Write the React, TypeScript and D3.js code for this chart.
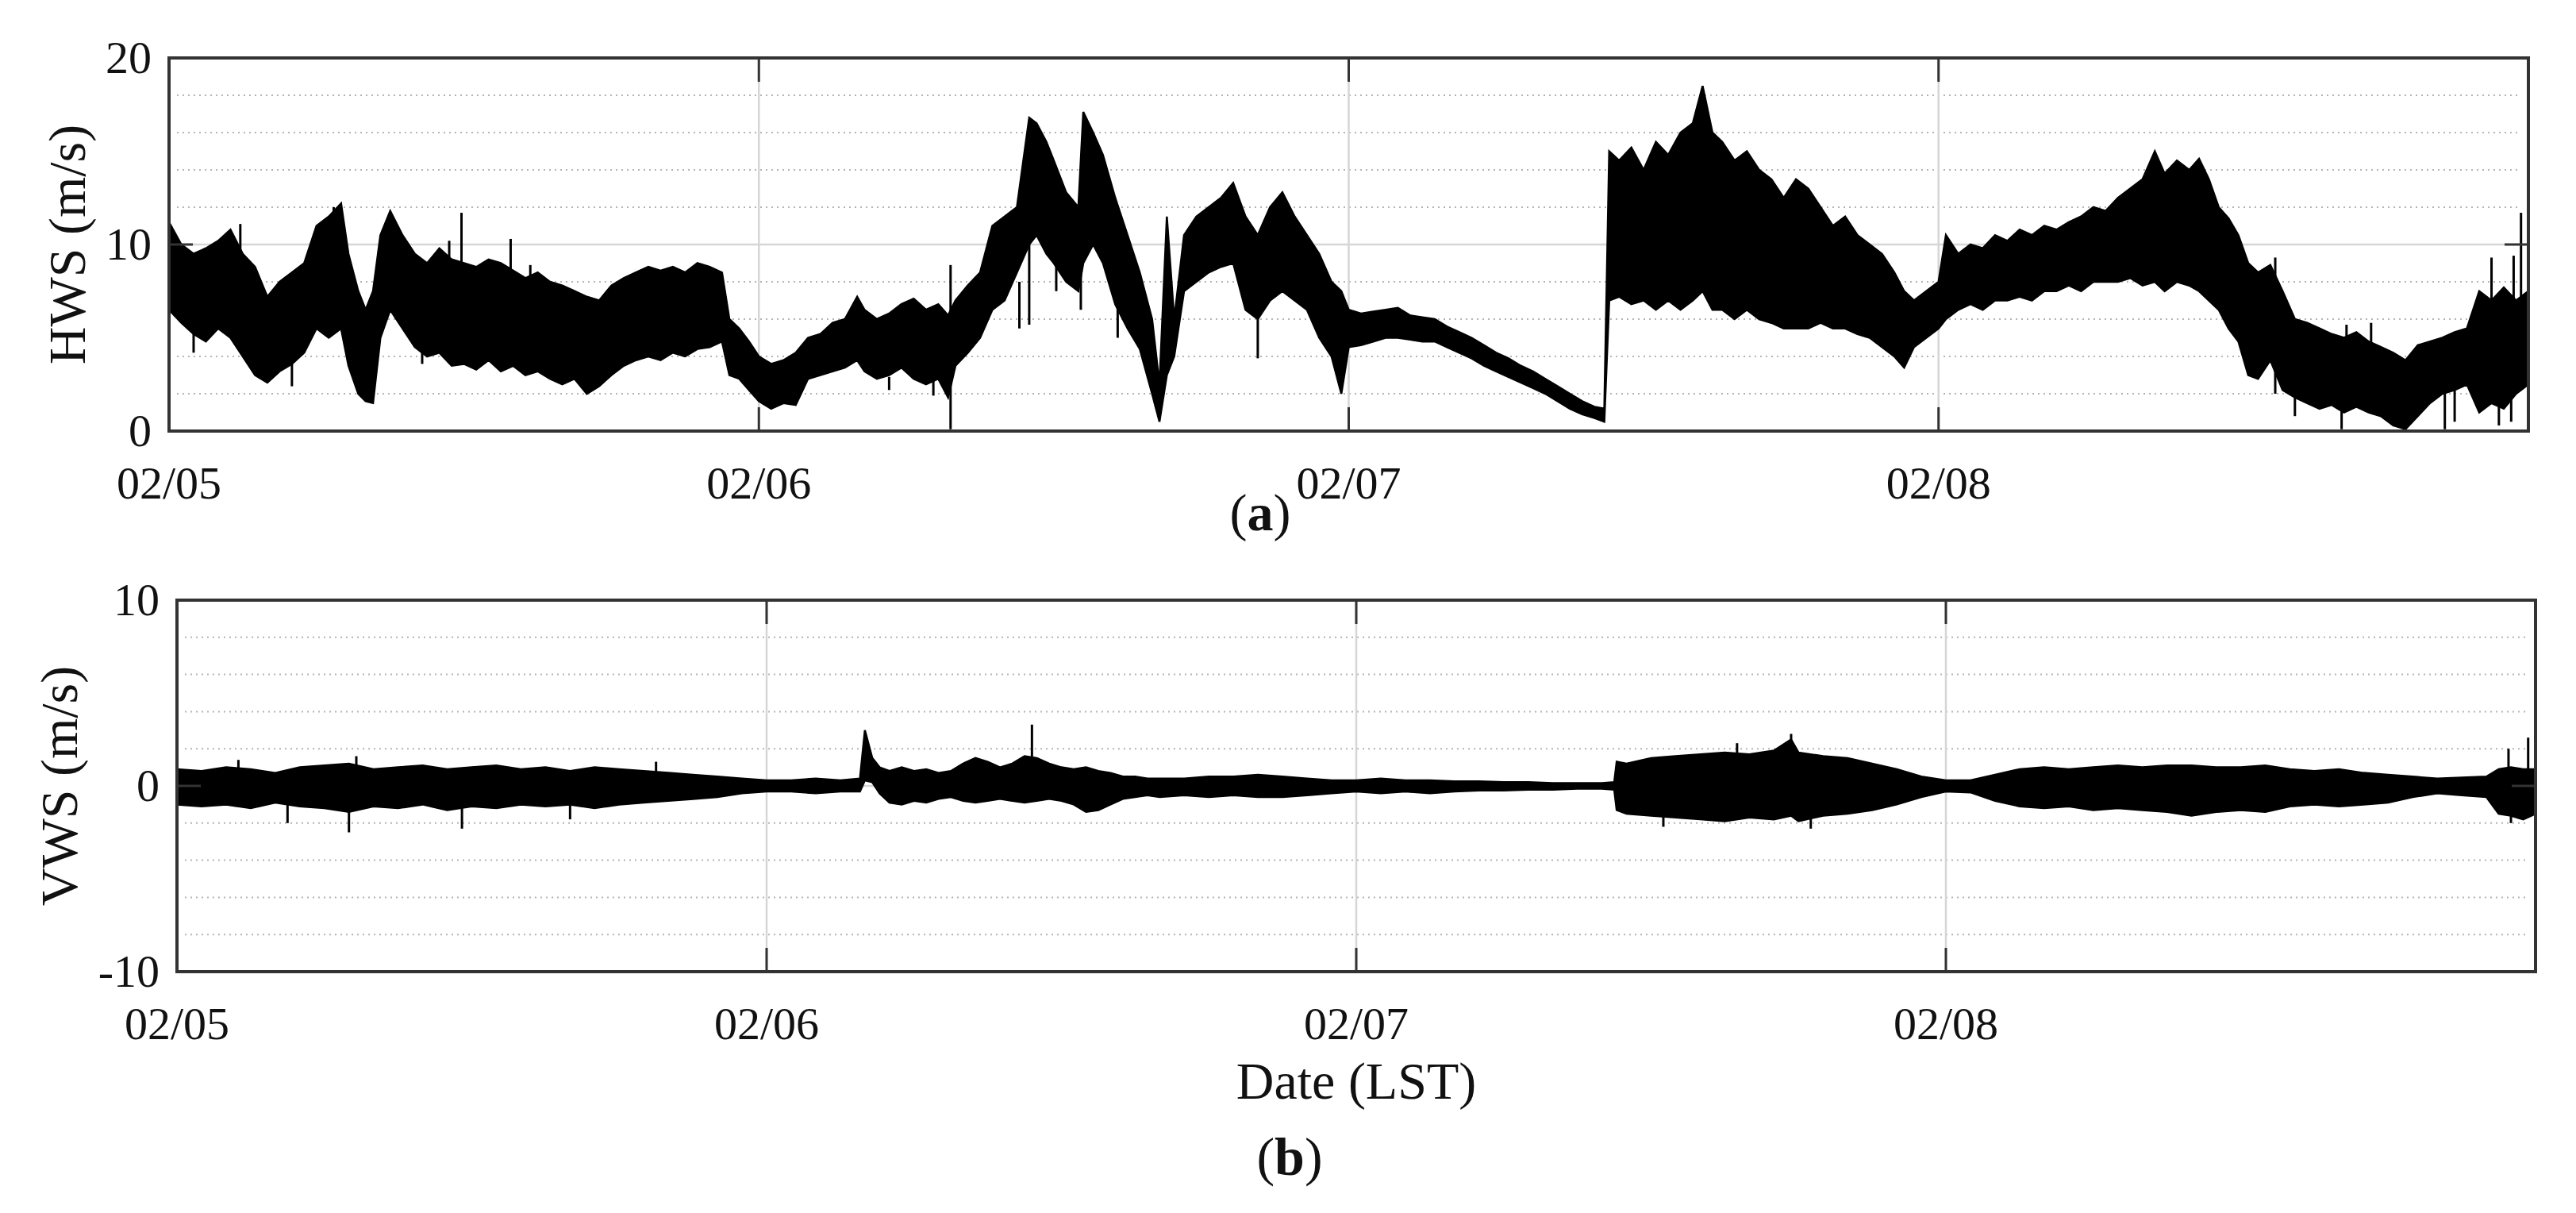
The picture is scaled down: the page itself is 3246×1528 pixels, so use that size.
import React from 'react';
import * as d3 from 'd3';

const W = 3246;
const H = 1528;

// x axis: hours since 02/05 00:00 LST
const dayLabels = ['02/05', '02/06', '02/07', '02/08'];
const dayHours = [0, 24, 48, 72];
const xDomain = [0, 96];

// ---------- HWS (m/s): envelope (upper / lower) ----------
const hwsT = [0, 0.5, 1, 1.5, 2, 2.5, 3, 3.5, 4, 4.5, 5, 5.5, 6, 6.5, 7, 7.3, 7.7, 8, 8.3, 8.6, 9, 9.5, 10, 10.5, 11, 11.5, 12, 12.5, 13, 13.5, 14, 14.5, 15, 15.5, 16, 16.5, 17, 17.5, 18, 18.5, 19, 19.5, 20, 20.5, 21, 21.5, 22, 22.5, 22.8, 23.2, 23.6, 24, 24.5, 25, 25.5, 26, 26.5, 27, 27.5, 28, 28.3, 28.8, 29.3, 29.8, 30.3, 30.8, 31.3, 31.7, 32, 32.5, 33, 33.5, 34, 34.5, 35, 35.3, 35.7, 36, 36.5, 37, 37.2, 37.6, 38, 38.5, 39, 39.5, 40, 40.3, 40.6, 40.9, 41.3, 41.8, 42.3, 42.8, 43.3, 43.8, 44.3, 44.8, 45.3, 45.8, 46.3, 46.8, 47.3, 47.7, 48, 48.5, 49, 49.5, 50, 50.5, 51, 51.5, 52, 52.5, 53, 53.5, 54, 54.5, 55, 55.5, 56, 56.5, 57, 57.5, 58, 58.4, 58.6, 59, 59.5, 60, 60.5, 61, 61.5, 62, 62.4, 62.8, 63.2, 63.7, 64.2, 64.7, 65.2, 65.7, 66.2, 66.7, 67.2, 67.7, 68.2, 68.7, 69.2, 69.7, 70.2, 70.6, 71, 71.5, 72, 72.3, 72.8, 73.3, 73.8, 74.3, 74.8, 75.3, 75.8, 76.3, 76.8, 77.3, 77.8, 78.3, 78.8, 79.3, 79.8, 80.3, 80.8, 81.2, 81.7, 82.2, 82.6, 83, 83.4, 83.8, 84.2, 84.6, 85, 85.5, 86, 86.5, 87, 87.5, 88, 88.5, 89, 89.5, 90, 90.5, 91, 91.5, 92, 92.5, 93, 93.5, 94, 94.5, 95, 95.5, 96];
const hwsHi = [11.2, 10.0, 9.5, 9.8, 10.2, 10.8, 9.5, 8.8, 7.2, 8.0, 8.5, 9.0, 11.0, 11.5, 12.2, 9.5, 7.5, 6.5, 7.5, 10.5, 11.8, 10.5, 9.5, 9.0, 9.8, 9.2, 9.0, 8.8, 9.2, 9.0, 8.6, 8.2, 8.5, 8.0, 7.8, 7.5, 7.2, 7.0, 7.8, 8.2, 8.5, 8.8, 8.6, 8.8, 8.5, 9.0, 8.8, 8.5, 6.0, 5.5, 4.8, 4.0, 3.6, 3.8, 4.2, 5.0, 5.2, 5.8, 6.0, 7.2, 6.5, 6.0, 6.3, 6.8, 7.1, 6.5, 6.8, 6.2, 7.0, 7.8, 8.5, 11.0, 11.5, 12.0, 16.8, 16.5, 15.5, 14.5, 12.8, 12.0, 17.1, 16.0, 14.8, 12.5, 10.5, 8.5, 6.0, 2.5, 11.5, 6.0, 10.5, 11.5, 12.0, 12.5, 13.3, 11.5, 10.5, 12.0, 12.8, 11.5, 10.5, 9.5, 8.0, 7.5, 6.5, 6.3, 6.4, 6.5, 6.6, 6.2, 6.1, 6.0, 5.6, 5.3, 5.0, 4.6, 4.2, 3.9, 3.5, 3.2, 2.8, 2.4, 2.0, 1.6, 1.3, 1.2, 15.0, 14.5, 15.2, 14.0, 15.5, 14.8, 16.0, 16.5, 18.5, 16.0, 15.5, 14.5, 15.0, 14.0, 13.5, 12.5, 13.5, 13.0, 12.0, 11.0, 11.5, 10.5, 10.0, 9.5, 8.5, 7.5, 7.0, 7.5, 8.0, 10.5, 9.5, 10.0, 9.8, 10.5, 10.2, 10.8, 10.5, 11.0, 10.8, 11.2, 11.5, 12.0, 11.8, 12.5, 13.0, 13.5, 15.0, 13.8, 14.5, 14.0, 14.6, 13.5, 12.0, 11.4, 10.5, 9.0, 8.5, 8.9, 7.5, 6.0, 5.8, 5.5, 5.2, 5.0, 5.3, 4.8, 4.5, 4.2, 3.8, 4.6, 4.8, 5.0, 5.3, 5.5, 7.5, 7.0, 7.7, 7.0, 7.5];
const hwsLo = [6.5, 5.8, 5.2, 4.8, 5.5, 5.0, 4.0, 3.0, 2.6, 3.2, 3.6, 4.2, 5.5, 5.0, 5.5, 3.5, 2.0, 1.6, 1.5, 5.0, 6.5, 5.5, 4.5, 4.0, 4.2, 3.5, 3.6, 3.3, 3.8, 3.2, 3.5, 3.0, 3.2, 2.8, 2.5, 2.8, 2.0, 2.4, 3.0, 3.5, 3.8, 4.0, 3.8, 4.2, 4.0, 4.4, 4.5, 4.8, 3.0, 2.8, 2.2, 1.6, 1.2, 1.5, 1.4, 2.8, 3.0, 3.2, 3.4, 3.8, 3.2, 2.8, 3.0, 3.4, 2.8, 2.5, 2.8, 1.8, 3.5, 4.2, 5.0, 6.5, 7.0, 8.5, 10.0, 10.5, 9.5, 9.0, 8.0, 7.5, 9.0, 10.0, 9.0, 6.8, 5.5, 4.4, 2.0, 0.5, 3.0, 4.0, 7.5, 8.0, 8.5, 8.8, 9.0, 6.5, 6.0, 7.0, 7.5, 7.0, 6.5, 5.0, 4.0, 2.0, 4.5, 4.6, 4.8, 5.0, 5.0, 4.9, 4.8, 4.8, 4.5, 4.2, 3.9, 3.5, 3.2, 2.9, 2.6, 2.3, 2.0, 1.6, 1.2, 0.9, 0.7, 0.5, 7.0, 7.2, 6.8, 7.0, 6.5, 7.0, 6.5, 7.0, 7.5, 6.5, 6.5, 6.0, 6.5, 6.0, 5.8, 5.5, 5.5, 5.5, 5.8, 5.5, 5.5, 5.2, 5.0, 4.5, 4.0, 3.4, 4.5, 5.0, 5.5, 6.0, 6.5, 6.8, 6.5, 7.0, 7.0, 7.2, 7.0, 7.5, 7.5, 7.8, 7.5, 8.0, 8.0, 8.0, 8.2, 7.8, 8.0, 7.5, 8.0, 7.8, 7.5, 7.0, 6.5, 5.5, 4.8, 3.0, 2.8, 3.8, 2.2, 1.8, 1.5, 1.2, 1.4, 1.0, 1.3, 1.0, 0.8, 0.3, 0.1, 0.8, 1.5, 2.0, 2.2, 2.5, 1.0, 1.5, 1.2, 2.0, 2.5];
// isolated spikes: [hour, from, to]
const hwsSpikes = [
  [1.0, 4.2, 7.0], [2.9, 6.0, 11.1], [5.0, 2.4, 6.0], [6.7, 7.0, 12.0], [10.3, 3.6, 7.0], [11.4, 5.0, 10.2],
  [11.9, 4.0, 11.7], [13.9, 5.0, 10.3], [14.7, 4.0, 8.9], [29.3, 2.2, 2.9], [31.1, 1.9, 4.0], [31.8, 0.1, 8.9],
  [34.6, 5.5, 8.0], [35.0, 5.7, 11.0], [36.1, 7.5, 10.0], [37.1, 6.5, 9.0], [38.6, 5.0, 8.0], [44.1, 8.0, 10.7],
  [44.3, 3.9, 7.0], [83.3, 8.0, 11.4], [85.7, 2.0, 9.3], [86.5, 0.8, 3.0], [88.4, 0.1, 3.0], [88.6, 2.0, 5.7],
  [89.6, 2.0, 5.8], [92.6, 0.1, 3.0], [93.0, 0.5, 3.0], [94.5, 3.0, 9.3], [94.8, 0.3, 3.0], [95.3, 0.5, 3.0],
  [95.4, 3.0, 9.4], [95.7, 4.0, 11.7],
];

// ---------- VWS (m/s) ----------
const vwsT = [0, 1, 2, 3, 4, 5, 6, 7, 8, 9, 10, 11, 12, 13, 14, 15, 16, 17, 18, 19, 20, 21, 22, 23, 24, 25, 26, 27, 27.8, 28, 28.3, 28.6, 29, 29.5, 30, 30.5, 31, 31.5, 32, 32.5, 33, 33.5, 34, 34.5, 35, 35.5, 36, 36.5, 37, 37.5, 38, 38.5, 39, 39.5, 40, 41, 42, 43, 44, 45, 46, 47, 48, 49, 50, 51, 52, 53, 54, 55, 56, 57, 58, 58.5, 58.6, 59, 60, 61, 62, 63, 64, 65, 65.7, 66, 67, 68, 69, 70, 71, 72, 73, 74, 75, 76, 77, 78, 79, 80, 81, 82, 83, 84, 85, 86, 87, 88, 89, 90, 91, 92, 93, 94, 94.5, 95, 95.5, 96];
const vwsHi = [0.9, 0.8, 1.0, 0.9, 0.7, 1.0, 1.1, 1.2, 0.9, 1.0, 1.1, 0.9, 1.0, 1.1, 0.9, 1.0, 0.8, 1.0, 0.9, 0.8, 0.7, 0.6, 0.5, 0.4, 0.3, 0.3, 0.4, 0.3, 0.4, 3.0, 1.5, 1.0, 0.8, 1.0, 0.8, 0.9, 0.7, 0.8, 1.2, 1.5, 1.3, 1.0, 1.2, 1.6, 1.5, 1.2, 1.0, 0.9, 1.0, 0.8, 0.7, 0.5, 0.5, 0.4, 0.4, 0.4, 0.5, 0.5, 0.6, 0.5, 0.4, 0.3, 0.3, 0.4, 0.3, 0.3, 0.25, 0.25, 0.2, 0.2, 0.15, 0.15, 0.15, 0.2, 1.3, 1.2, 1.5, 1.6, 1.7, 1.8, 1.7, 1.9, 2.5, 1.8, 1.6, 1.5, 1.2, 0.9, 0.5, 0.3, 0.3, 0.6, 0.9, 1.0, 0.9, 1.0, 1.1, 1.0, 1.1, 1.1, 1.0, 1.0, 1.1, 0.9, 0.8, 0.9, 0.7, 0.6, 0.5, 0.4, 0.45, 0.5, 0.9, 1.0, 0.9, 0.9];
const vwsLo = [-1.0, -1.1, -1.0, -1.2, -0.9, -1.1, -1.2, -1.4, -1.1, -1.2, -1.0, -1.3, -1.1, -1.2, -1.0, -1.1, -1.0, -1.2, -1.0, -0.9, -0.8, -0.7, -0.6, -0.4, -0.3, -0.3, -0.4, -0.3, -0.3, 0.3, 0.2, -0.4, -0.9, -1.0, -0.8, -0.9, -0.7, -0.6, -0.8, -0.9, -0.8, -0.7, -0.8, -0.9, -0.8, -0.7, -0.8, -1.0, -1.4, -1.3, -1.0, -0.7, -0.6, -0.5, -0.6, -0.5, -0.6, -0.5, -0.6, -0.6, -0.5, -0.4, -0.3, -0.4, -0.3, -0.4, -0.3, -0.25, -0.25, -0.2, -0.2, -0.15, -0.15, -0.2, -1.3, -1.5, -1.6, -1.7, -1.8, -1.9, -1.7, -1.8, -1.6, -1.9, -1.6, -1.5, -1.3, -1.0, -0.6, -0.3, -0.35, -0.8, -1.1, -1.2, -1.1, -1.3, -1.2, -1.3, -1.4, -1.6, -1.4, -1.3, -1.4, -1.1, -1.0, -1.1, -1.0, -0.9, -0.6, -0.4, -0.5, -0.6, -1.5, -1.6, -1.8, -1.5];
const vwsSpikes = [
  [2.5, 0, 1.4], [4.5, -2.0, 0], [7.0, -2.5, 0], [7.3, 0, 1.6], [11.6, -2.3, 0], [16.0, -1.8, 0], [19.5, 0, 1.3],
  [34.8, 0, 3.3], [60.5, -2.2, 0], [63.5, 0, 2.3], [65.7, 0, 2.8], [66.5, -2.3, 0], [94.9, 0, 2.0], [95.0, -2.0, 0],
  [95.7, 0, 2.6],
];

// axis ticks
const hwsMajor = [0, 10, 20];
const hwsMinor = [2, 4, 6, 8, 12, 14, 16, 18];
const vwsMajor = [-10, 0, 10];
const vwsMinor = [-8, -6, -4, -2, 2, 4, 6, 8];

const FONT = '"Liberation Serif", "Times New Roman", Times, serif';
const TICK_FS = 58;

type PanelProps = {
  id: string;
  box: { l: number; r: number; t: number; b: number };
  yDomain: [number, number];
  major: number[];
  minor: number[];
  T: number[];
  Hi: number[];
  Lo: number[];
  spikes: number[][];
  yLabel: string;
  yLabelX: number;
};

function Panel(p: PanelProps) {
  const { box } = p;
  const x = d3.scaleLinear().domain(xDomain).range([box.l, box.r]);
  const y = d3.scaleLinear().domain(p.yDomain).range([box.b, box.t]);
  const idx = d3.range(p.T.length);
  const area = d3
    .area<number>()
    .x((i) => x(p.T[i]))
    .y0((i) => y(p.Lo[i]))
    .y1((i) => y(p.Hi[i]))
    .curve(d3.curveLinear);
  const upper = d3.line<number>().x((i) => x(p.T[i])).y((i) => y(p.Hi[i]));
  const lower = d3.line<number>().x((i) => x(p.T[i])).y((i) => y(p.Lo[i]));
  const cy = (box.t + box.b) / 2;
  const tickLen = 30;
  return (
    <g>
      <defs>
        <clipPath id={'clip-' + p.id}>
          <rect x={box.l} y={box.t} width={box.r - box.l} height={box.b - box.t} />
        </clipPath>
      </defs>
      {p.minor.map((v) => (
        <line key={'mn' + v} x1={box.l + 10} x2={box.r - 10} y1={y(v)} y2={y(v)} stroke="#b4b4b4" strokeWidth={2} strokeDasharray="2 5" />
      ))}
      {p.major.map((v) => (
        <line key={'mj' + v} x1={box.l} x2={box.r} y1={y(v)} y2={y(v)} stroke="#d6d6d6" strokeWidth={2.5} />
      ))}
      {dayHours.map((h) => (
        <line key={'vg' + h} x1={x(h)} x2={x(h)} y1={box.t} y2={box.b} stroke="#d6d6d6" strokeWidth={2.5} />
      ))}
      <g clipPath={`url(#clip-${p.id})`}>
        <path d={area(idx) || ''} fill="#000" />
        <path d={upper(idx) || ''} fill="none" stroke="#000" strokeWidth={2.5} />
        <path d={lower(idx) || ''} fill="none" stroke="#000" strokeWidth={2.5} />
        {p.spikes.map((s, i) => (
          <line key={'sp' + i} x1={x(s[0])} x2={x(s[0])} y1={y(s[1])} y2={y(s[2])} stroke="#000" strokeWidth={3} />
        ))}
      </g>
      {dayHours.map((h) => (
        <g key={'xt' + h}>
          <line x1={x(h)} x2={x(h)} y1={box.b} y2={box.b - tickLen} stroke="#333" strokeWidth={3} />
          <line x1={x(h)} x2={x(h)} y1={box.t} y2={box.t + tickLen} stroke="#333" strokeWidth={3} />
        </g>
      ))}
      {p.major.map((v) => (
        <g key={'yt' + v}>
          <line x1={box.l} x2={box.l + tickLen} y1={y(v)} y2={y(v)} stroke="#333" strokeWidth={3} />
          <line x1={box.r} x2={box.r - tickLen} y1={y(v)} y2={y(v)} stroke="#333" strokeWidth={3} />
        </g>
      ))}
      <rect x={box.l} y={box.t} width={box.r - box.l} height={box.b - box.t} fill="none" stroke="#333" strokeWidth={4} />
      {p.major.map((v) => (
        <text key={'yl' + v} x={box.l - 22} y={y(v)} dy="0.33em" textAnchor="end" fontFamily={FONT} fontSize={TICK_FS} fill="#111">
          {v}
        </text>
      ))}
      {dayHours.map((h, i) => (
        <text key={'xl' + h} x={x(h)} y={box.b + 85} textAnchor="middle" fontFamily={FONT} fontSize={TICK_FS} fill="#111">
          {dayLabels[i]}
        </text>
      ))}
      <text transform={`translate(${p.yLabelX},${cy}) rotate(-90)`} textAnchor="middle" fontFamily={FONT} fontSize={66} fill="#111">
        {p.yLabel}
      </text>
    </g>
  );
}

export default function App() {
  return (
    <svg width={W} height={H} viewBox={`0 0 ${W} ${H}`} style={{ position: 'absolute', left: 0, top: 0, background: '#fff' }}>
      <rect x={0} y={0} width={W} height={H} fill="#fff" />
      <Panel
        id="a"
        box={{ l: 213, r: 3186, t: 73, b: 543 }}
        yDomain={[0, 20]}
        major={hwsMajor}
        minor={hwsMinor}
        T={hwsT}
        Hi={hwsHi}
        Lo={hwsLo}
        spikes={hwsSpikes}
        yLabel="HWS (m/s)"
        yLabelX={107}
      />
      <text x={1588} y={668} textAnchor="middle" fontFamily={FONT} fontSize={66} fill="#111">
        (<tspan fontWeight="bold">a</tspan>)
      </text>
      <Panel
        id="b"
        box={{ l: 223, r: 3195, t: 756, b: 1224 }}
        yDomain={[-10, 10]}
        major={vwsMajor}
        minor={vwsMinor}
        T={vwsT}
        Hi={vwsHi}
        Lo={vwsLo}
        spikes={vwsSpikes}
        yLabel="VWS (m/s)"
        yLabelX={97}
      />
      <text x={1709} y={1384} textAnchor="middle" fontFamily={FONT} fontSize={66} fill="#111">
        Date (LST)
      </text>
      <text x={1625} y={1480} textAnchor="middle" fontFamily={FONT} fontSize={68} fill="#111">
        (<tspan fontWeight="bold">b</tspan>)
      </text>
    </svg>
  );
}
